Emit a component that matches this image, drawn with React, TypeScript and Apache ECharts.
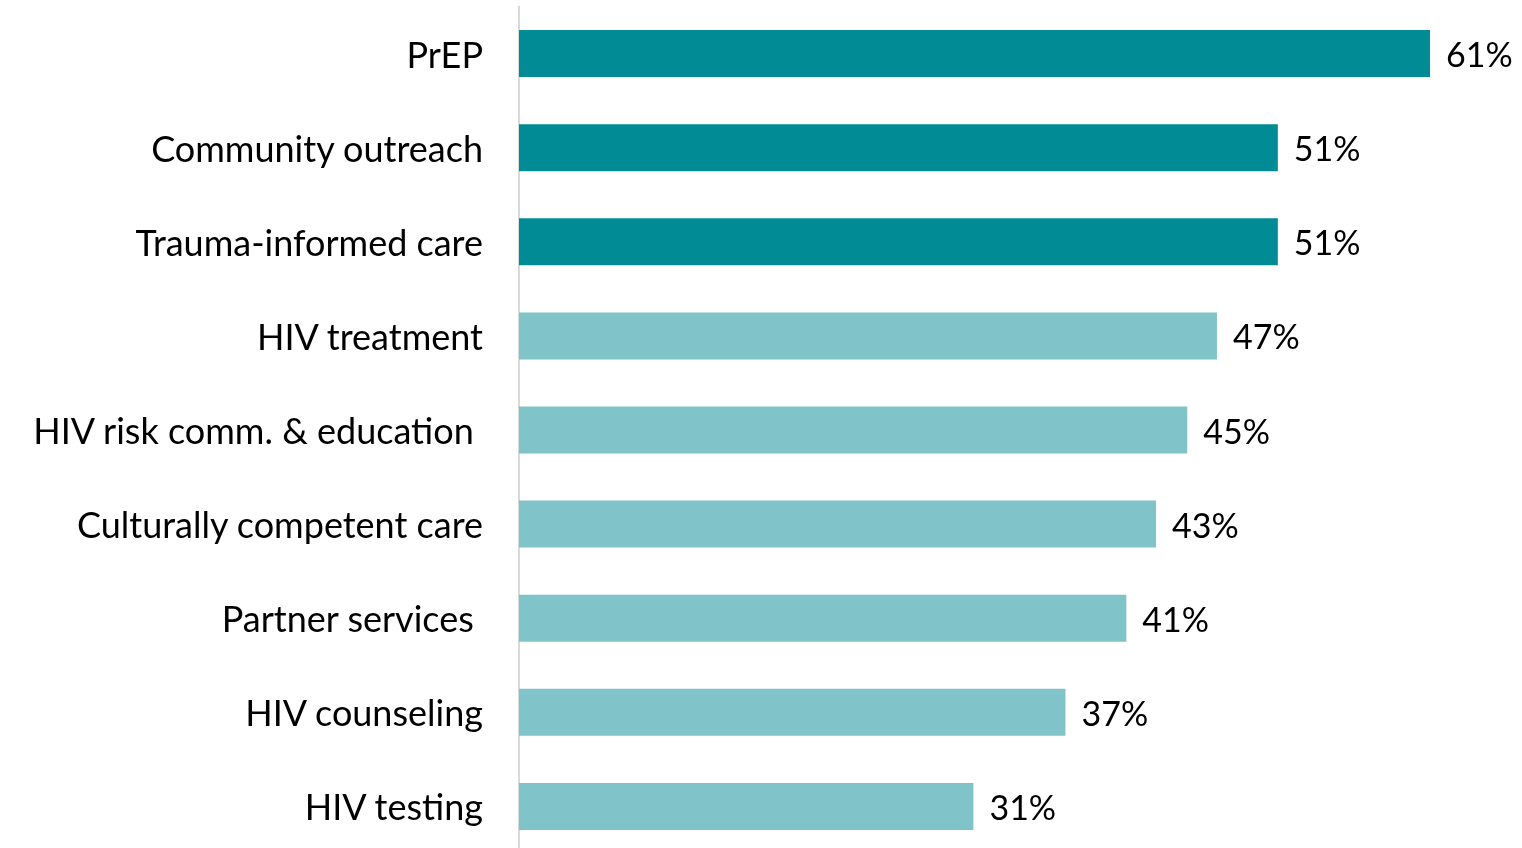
import React, { useEffect, useRef } from "react";
import * as echarts from "echarts";

const categories = [
  "PrEP",
  "Community outreach",
  "Trauma-informed care",
  "HIV treatment",
  "HIV risk comm. & education\u00a0",
  "Culturally competent care",
  "Partner services\u00a0",
  "HIV counseling",
  "HIV testing",
];
// underlying shares (labels show rounded percentages)
const values = [61.35, 51.1, 51.1, 47.0, 45.0, 42.9, 40.9, 36.8, 30.6];
const highlighted = [true, true, true, false, false, false, false, false, false];

const DARK = "#008B95";
const LIGHT = "#80C4CA";
const FONT = "Lato, 'Open Sans', sans-serif";

export default function App() {
  const ref = useRef<HTMLDivElement>(null);
  useEffect(() => {
    if (!ref.current) return;
    const chart = echarts.init(ref.current, null, { renderer: "svg" });
    chart.setOption({
      animation: false,
      grid: { left: 519, top: 6.5, width: 14.85 * 66, height: 847 },
      xAxis: {
        type: "value",
        min: 0,
        max: 66,
        show: false,
        splitLine: { show: false },
      },
      yAxis: {
        type: "category",
        data: categories,
        inverse: true,
        axisLine: { show: true, lineStyle: { color: "#d9d9d9", width: 2 } },
        axisTick: { show: false },
        axisLabel: {
          margin: 36,
          color: "#000",
          fontSize: 36,
          fontFamily: FONT,
        },
      },
      series: [
        {
          type: "bar",
          barWidth: 47,
          data: values.map((v, i) => ({
            value: v,
            itemStyle: { color: highlighted[i] ? DARK : LIGHT },
          })),
          label: {
            show: true,
            position: "right",
            distance: 16,
            formatter: (p: any) => Math.round(p.value) + "%",
            color: "#000",
            fontSize: 34,
            fontFamily: FONT,
          },
        },
      ],
    });
    return () => chart.dispose();
  }, []);
  return (
    <div
      ref={ref}
      style={{ position: "fixed", left: 0, top: 0, width: 1522, height: 860 }}
    />
  );
}
